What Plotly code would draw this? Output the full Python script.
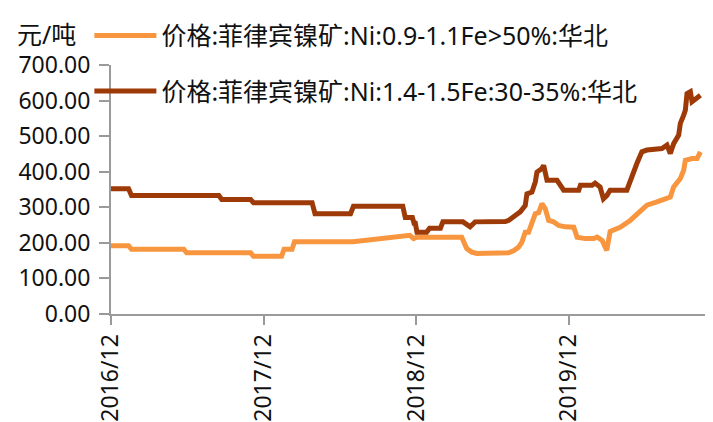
import plotly.graph_objects as go

series_names = ["价格:菲律宾镍矿:Ni:0.9-1.1Fe>50%:华北", "价格:菲律宾镍矿:Ni:1.4-1.5Fe:30-35%:华北"]
y_unit = "元/吨"

orange_dates = ["2016-12-01", "2017-01-12", "2017-01-19", "2017-05-24", "2017-05-31", "2017-10-31",
                "2017-11-07", "2018-01-13", "2018-01-19", "2018-02-07", "2018-02-13", "2018-07-03",
                "2018-11-16", "2018-11-25", "2018-12-03", "2019-03-20", "2019-04-01", "2019-04-13",
                "2019-04-25", "2019-07-10", "2019-07-22", "2019-08-03", "2019-08-11", "2019-08-19",
                "2019-08-27", "2019-09-04", "2019-09-12", "2019-09-20", "2019-09-28", "2019-10-06",
                "2019-10-14", "2019-10-26", "2019-11-07", "2019-11-23", "2019-12-13", "2019-12-21",
                "2020-01-10", "2020-01-30", "2020-02-07", "2020-02-19", "2020-03-01", "2020-03-09",
                "2020-04-02", "2020-04-26", "2020-05-12", "2020-05-24", "2020-06-05", "2020-06-29",
                "2020-07-31", "2020-08-08", "2020-08-24", "2020-09-01", "2020-09-05", "2020-09-21",
                "2020-10-03", "2020-10-11"]
orange_values = [192, 192, 182, 182, 172, 172,
                 162, 162, 182, 182, 203, 203,
                 221, 212, 216, 216, 184, 174,
                 170, 172, 178, 188, 202, 230,
                 230, 259, 282, 285, 310, 296,
                 263, 259, 249, 245, 244, 216,
                 212, 212, 216, 207, 179, 232,
                 244, 263, 282, 296, 306, 315,
                 329, 357, 381, 404, 432, 437,
                 437, 456]

dark_dates = ["2016-12-01", "2017-01-12", "2017-01-19", "2017-08-16", "2017-08-23", "2017-10-31",
              "2017-11-07", "2018-03-27", "2018-04-03", "2018-06-27", "2018-07-04", "2018-10-30",
              "2018-11-05", "2018-11-22", "2018-11-26", "2018-11-29", "2018-12-03", "2018-12-26",
              "2019-01-02", "2019-01-28", "2019-02-03", "2019-03-23", "2019-04-09", "2019-04-21",
              "2019-07-02", "2019-07-10", "2019-07-26", "2019-08-07", "2019-08-19", "2019-08-23",
              "2019-09-04", "2019-09-12", "2019-09-16", "2019-09-28", "2019-10-02", "2019-10-10",
              "2019-11-03", "2019-11-11", "2019-11-19", "2019-12-25", "2019-12-29", "2020-01-26",
              "2020-02-02", "2020-02-14", "2020-02-22", "2020-03-01", "2020-03-09", "2020-04-18",
              "2020-04-26", "2020-05-04", "2020-05-12", "2020-05-24", "2020-06-05", "2020-07-11",
              "2020-07-23", "2020-07-31", "2020-08-08", "2020-08-20", "2020-08-24", "2020-09-01",
              "2020-09-05", "2020-09-09", "2020-09-17", "2020-09-21", "2020-10-03", "2020-10-11"]
dark_values = [352, 352, 333, 333, 322, 322,
               313, 313, 282, 282, 303, 303,
               271, 271, 255, 255, 230, 230,
               241, 241, 259, 259, 245, 259,
               260, 263, 277, 287, 305, 338,
               343, 371, 399, 409, 418, 376,
               376, 362, 348, 348, 362, 362,
               368, 357, 324, 333, 348, 348,
               376, 395, 423, 456, 461, 465,
               475, 451, 479, 503, 536, 559,
               573, 620, 625, 597, 606, 615]

tick_dates = ["2016-12-01", "2017-12-01", "2018-12-01", "2019-12-01"]
tick_labels = ["2016/12", "2017/12", "2018/12", "2019/12"]
y_ticks = [0, 100, 200, 300, 400, 500, 600, 700]

FONT = "Noto Sans, Noto Sans CJK SC, sans-serif"
AXIS_GRAY = "#9a9a9a"

fig = go.Figure()
fig.add_trace(go.Scatter(x=orange_dates, y=orange_values, mode="lines", name=series_names[0],
                         legendgroup="a", line=dict(color="#F7963F", width=5)))
fig.add_trace(go.Scatter(x=dark_dates, y=dark_values, mode="lines", name=series_names[1],
                         legendgroup="b", line=dict(color="#9E3A08", width=5)))

fig.update_layout(
    width=705, height=414,
    margin=dict(l=103, r=8, t=57, b=108, autoexpand=False),
    paper_bgcolor="white", plot_bgcolor="white",
    font=dict(family=FONT, size=23, color="#111111"),
    showlegend=True,
    legend=dict(orientation="v", x=-0.0364, xanchor="left", y=1.21, yanchor="top",
                font=dict(family=FONT, size=25, color="#111111"),
                itemwidth=62, tracegroupgap=20, bgcolor="rgba(0,0,0,0)"),
    xaxis=dict(type="date", range=["2016-12-01", "2020-10-22"], tickmode="array",
               tickvals=tick_dates, ticktext=tick_labels, tickangle=-90,
               showgrid=False, zeroline=False, showline=True, linecolor=AXIS_GRAY, linewidth=2,
               ticks="outside", ticklen=9, tickcolor=AXIS_GRAY, tickwidth=2,
               ticklabelstandoff=0,
               tickfont=dict(family=FONT, size=23)),
    yaxis=dict(range=[0, 700], tickmode="array", tickvals=y_ticks, tickformat=".2f",
               showgrid=False, zeroline=False, showline=True, linecolor=AXIS_GRAY, linewidth=2,
               ticks="outside", ticklen=10, tickcolor=AXIS_GRAY, tickwidth=2,
               ticklabelstandoff=4,
               tickfont=dict(family=FONT, size=23)),
    annotations=[dict(text=y_unit, xref="paper", yref="paper", x=-0.1616, y=1.124,
                      xanchor="left", yanchor="middle", showarrow=False,
                      font=dict(family=FONT, size=25, color="#111111"))],
)

fig.write_html("out.html")
